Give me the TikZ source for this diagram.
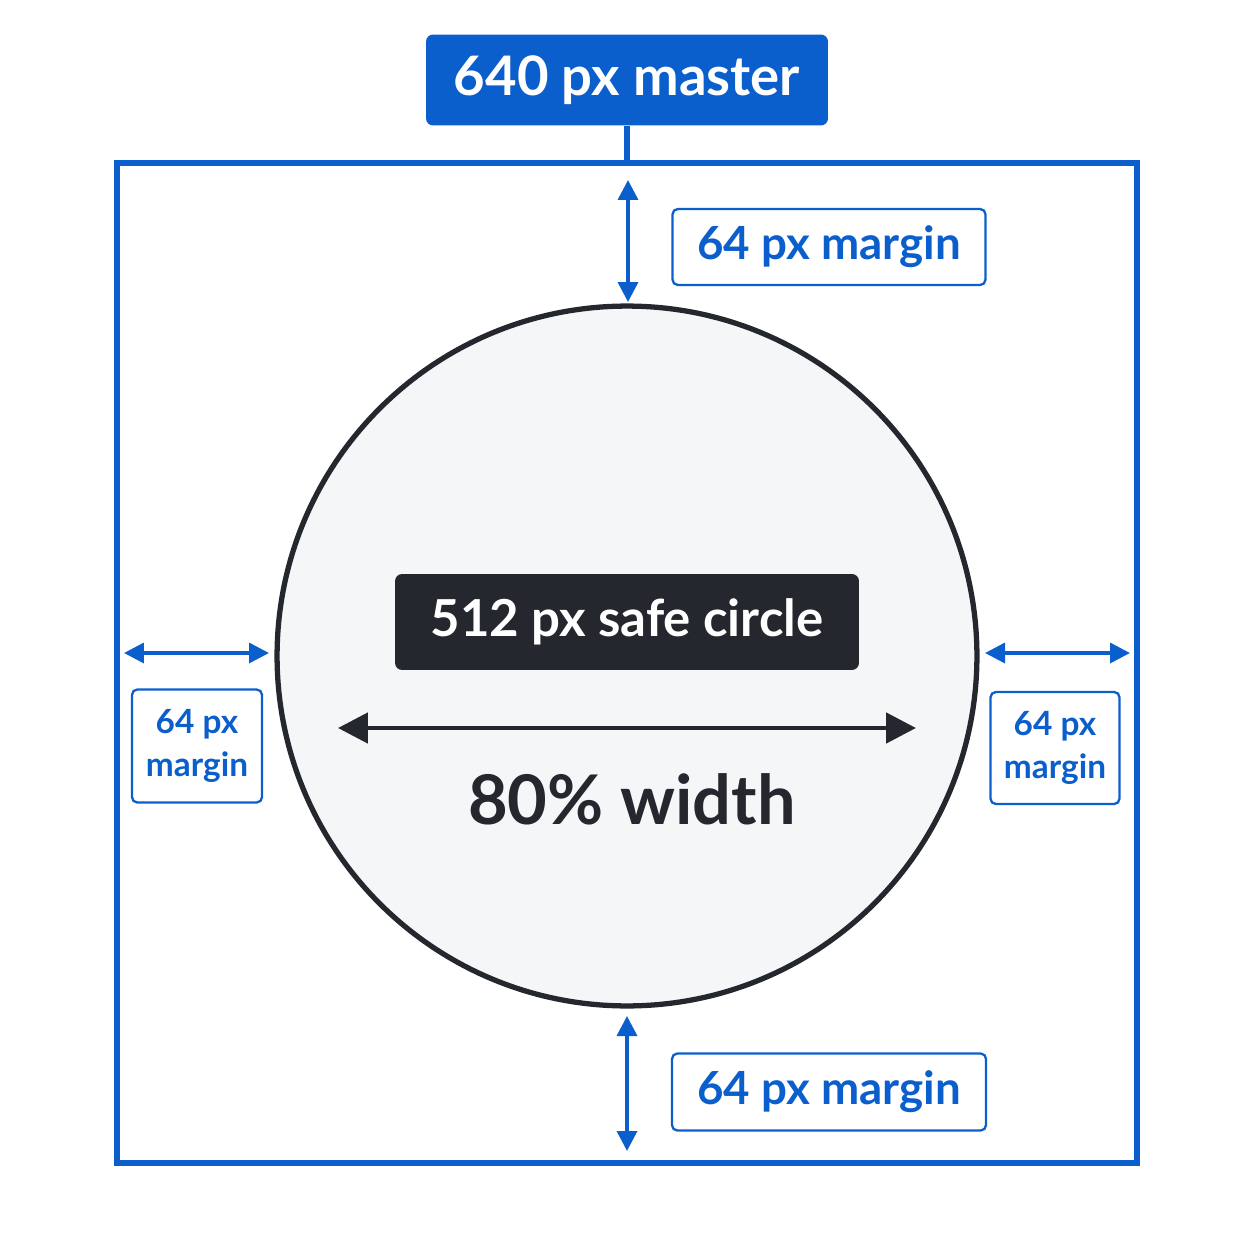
\documentclass[tikz,border=0pt]{standalone}
\usepackage{fontspec}
\setmainfont{Lato}
\usetikzlibrary{arrows.meta, positioning}
\definecolor{mblue}{HTML}{0B5FCC}
\definecolor{mdark}{HTML}{24272E}
\definecolor{mfill}{HTML}{F5F6F8}
\begin{document}
\begin{tikzpicture}[
  x=0.02cm, y=-0.02cm,
  font=\bfseries,
  barrow/.style={{Triangle[length=4mm,width=4mm]}-{Triangle[length=4mm,width=4mm]}, mblue, line width=2pt},
  darrow/.style={{Triangle[length=6mm,width=6mm]}-{Triangle[length=6mm,width=6mm]}, mdark, line width=2.8pt},
  tag/.style={rectangle, rounded corners=3pt, draw=mblue, fill=white, line width=1.3pt, text=mblue, align=center, inner sep=0pt},
  head/.style={rectangle, rounded corners=4pt, fill=mblue, text=white, inner sep=0pt},
  dark/.style={rectangle, rounded corners=4pt, fill=mdark, text=white, inner sep=0pt}
]
\useasboundingbox (0,0) rectangle (1254,1254);

% frame and circle
\draw[mblue, line width=3pt] (117,163) rectangle (1137,1163);
\node[circle, draw=mdark, fill=mfill, line width=3pt, minimum size=14cm, inner sep=0pt] (circ) at (627,656) {};

% title
\node[head, minimum width=8.04cm, minimum height=1.82cm, font=\fontsize{31}{36}\bfseries\selectfont] (master) at (627,80) {640 px master};
\coordinate (ftop) at (627,163);
\draw[mblue, line width=3pt] (master.south) -- (ftop);

% margins
\coordinate (t1) at (628,180); \coordinate (t2) at (628,302);
\coordinate (b1) at (627,1016); \coordinate (b2) at (627,1151);
\coordinate (l1) at (124,653); \coordinate (l2) at (269,653);
\coordinate (r1) at (985,653); \coordinate (r2) at (1130,653);
\draw[barrow] (t1) -- (t2);
\draw[barrow] (b1) -- (b2);
\draw[barrow] (l1) -- (l2);
\draw[barrow] (r1) -- (r2);

\node[tag, minimum width=6.26cm, minimum height=1.52cm, font=\fontsize{26}{30}\bfseries\selectfont] (mtop) at (829,247) {64 px margin};
\node[tag, minimum width=6.28cm, minimum height=1.54cm, font=\fontsize{26}{30}\bfseries\selectfont] (mbot) at (829,1092) {64 px margin};
\node[tag, minimum width=2.6cm, minimum height=2.26cm, font=\fontsize{19}{24}\bfseries\selectfont] (mleft) at (197,746) {64 px\\margin};
\node[tag, minimum width=2.58cm, minimum height=2.24cm, font=\fontsize{19}{24}\bfseries\selectfont] (mright) at (1055,748) {64 px\\margin};

% inside circle
\node[dark, minimum width=9.28cm, minimum height=1.92cm, font=\fontsize{29}{32}\bfseries\selectfont] (safe) at (627,622) {512 px safe circle};
\coordinate (w1) at (338,728); \coordinate (w2) at (916,728);
\draw[darrow] (w1) -- (w2);
\node[text=mdark, font=\fontsize{39}{44}\bfseries\selectfont] (width) at (632,799) {80\% width};
\end{tikzpicture}
\end{document}
